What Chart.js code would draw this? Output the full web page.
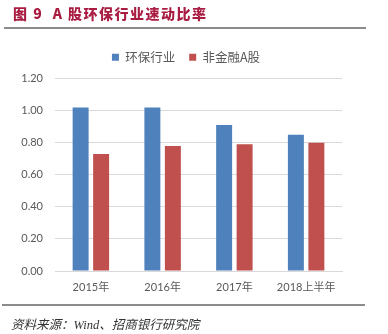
<!DOCTYPE html>
<html>
<head>
<meta charset="utf-8">
<script src="https://cdn.jsdelivr.net/npm/chart.js@4.4.1/dist/chart.umd.min.js"></script>
<style>
  html, body { margin: 0; padding: 0; background: #fff; }
  #page { position: relative; width: 388px; height: 334px; overflow: hidden; }
  #title {
    position: absolute; left: 13px; top: 3px;
    font-family: "Noto Sans CJK SC", sans-serif; font-weight: 900;
    font-size: 14px; color: #a91d42; white-space: pre; letter-spacing: 1.5px;
  }
  .rule { position: absolute; height: 2px; background: #8c8c8c; }
  #source {
    position: absolute; left: 11px; top: 314px;
    font-family: "Liberation Serif", "Noto Sans CJK SC", serif; font-style: italic;
    font-size: 12.5px; color: #333; white-space: pre;
  }
  #wrap { position: absolute; left: 0; top: 0; width: 388px; height: 334px; }
</style>
</head>
<body>
<div id="page">
  <div id="wrap"><canvas id="c"></canvas></div>
  <div id="title">图 9  A 股环保行业速动比率</div>
  <div class="rule" style="left:4px; top:27px; width:362px;"></div>
  <div class="rule" style="left:2px; top:304px; width:363px;"></div>
  <div id="source">资料来源：Wind、招商银行研究院</div>
</div>
<script>
// Quick ratio: environmental protection sector vs. non-financial A-shares
const categories = ["2015年", "2016年", "2017年", "2018上半年"];
const envSector = [1.02, 1.02, 0.91, 0.85];
const nonFinancialA = [0.73, 0.78, 0.79, 0.80];
const seriesNames = ["环保行业", "非金融A股"];
const yTicks = [0, 0.2, 0.4, 0.6, 0.8, 1.0, 1.2];

const axisFont = { family: "Lato, 'Noto Sans CJK SC', sans-serif", size: 11 };

// legend: a little more room below it, and centred over the plot rather than the canvas
const legendPlacement = {
  id: 'legendPlacement',
  beforeInit(chart) {
    const lg = chart.legend;
    if (!lg) return;
    const fit = lg.fit;
    lg.fit = function () { fit.call(lg); this.height += 5; };
  },
  afterLayout(chart) {
    const lg = chart.legend;
    if (!lg) return;
    lg.left += 15;
    lg.right += 15;
  }
};

new Chart(document.getElementById('c'), {
  type: 'bar',
  data: {
    labels: categories,
    datasets: [
      { label: seriesNames[0], data: envSector, backgroundColor: '#4f81bd' },
      { label: seriesNames[1], data: nonFinancialA, backgroundColor: '#c0504d' }
    ]
  },
  options: {
    responsive: true,
    maintainAspectRatio: false,
    animation: false,
    devicePixelRatio: 1,
    layout: { padding: { left: 0, right: 46, top: 37, bottom: 0 } },
    datasets: { bar: { categoryPercentage: 0.571, barPercentage: 0.78 } },
    plugins: {
      legend: {
        position: 'top',
        align: 'center',
        labels: {
          boxWidth: 7, boxHeight: 7, padding: 14,
          color: '#595959',
          font: { family: "'Noto Sans CJK SC', sans-serif", size: 12.5 }
        }
      },
      tooltip: { enabled: false }
    },
    scales: {
      x: {
        grid: { display: false, drawTicks: false },
        border: { display: true, color: '#d9d9d9', width: 1 },
        ticks: { color: '#595959', font: axisFont, padding: 10, maxRotation: 0 },
        afterFit(scale) { scale.height = 63; }
      },
      y: {
        min: 0, max: 1.2,
        afterBuildTicks(scale) { scale.ticks = yTicks.map(v => ({ value: v })); },
        grid: { color: '#d9d9d9', drawTicks: false },
        border: { display: false },
        ticks: {
          color: '#595959', font: axisFont, padding: 12,
          callback: v => Number(v).toFixed(2)
        },
        afterFit(scale) { scale.width = 55; }
      }
    }
  },
  plugins: [legendPlacement]
});
</script>
</body>
</html>
